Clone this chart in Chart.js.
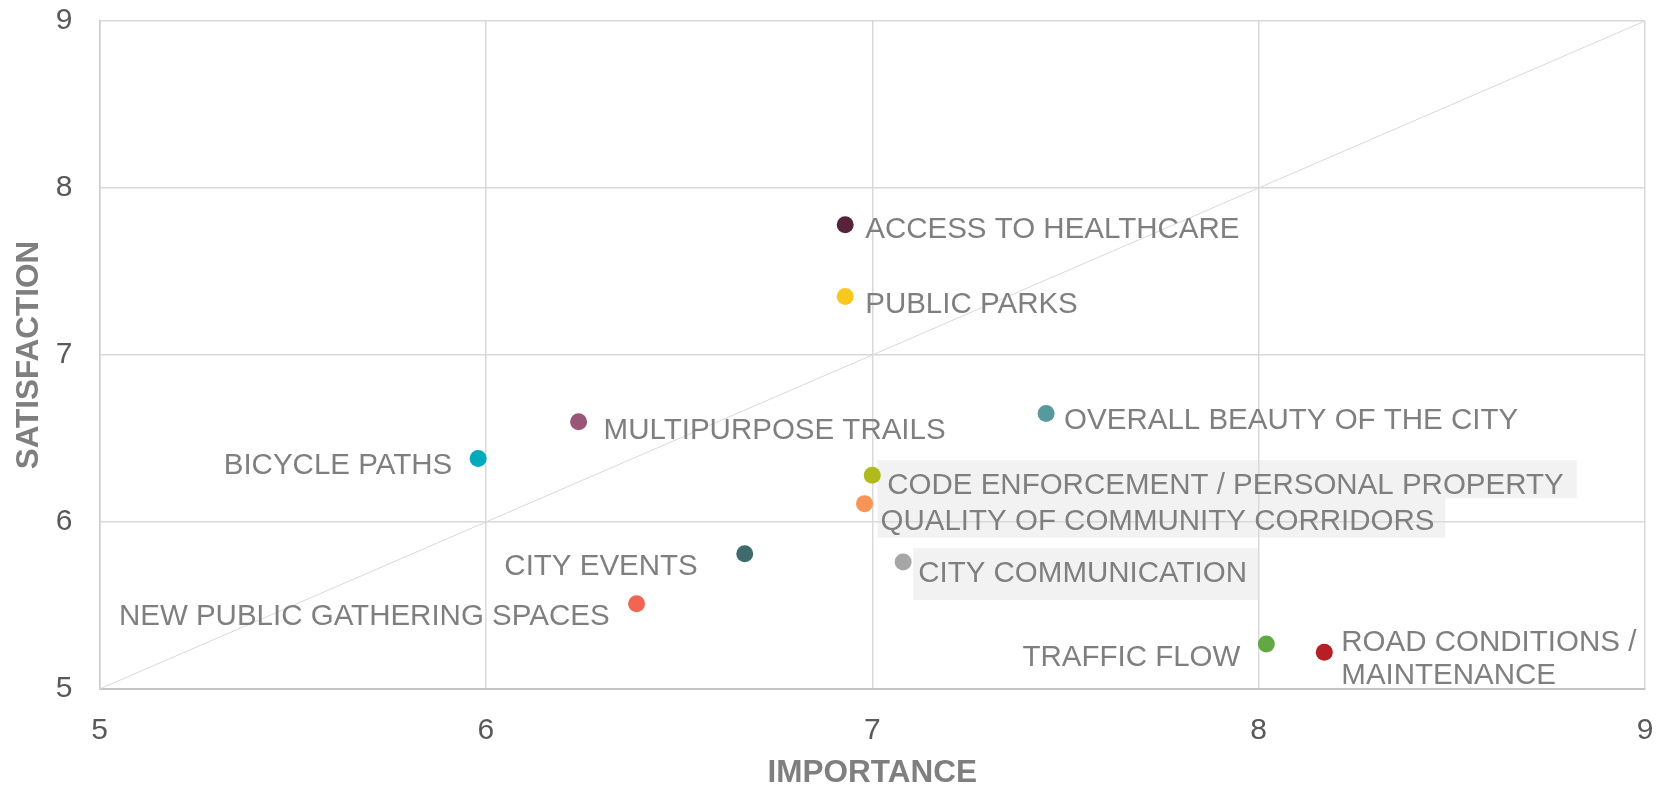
<!DOCTYPE html>
<html>
<head>
<meta charset="utf-8">
<script src="https://cdn.jsdelivr.net/npm/chart.js@4.4.0/dist/chart.umd.min.js"></script>
<style>
  html, body { margin: 0; padding: 0; background: #fff; }
</style>
</head>
<body>
<canvas id="chart" width="1656" height="786"></canvas>
<script>
// ===========================
// Data
// ===========================
const categories = [
  'ACCESS TO HEALTHCARE',
  'PUBLIC PARKS',
  'OVERALL BEAUTY OF THE CITY',
  'MULTIPURPOSE TRAILS',
  'BICYCLE PATHS',
  'CODE ENFORCEMENT / PERSONAL PROPERTY',
  'QUALITY OF COMMUNITY CORRIDORS',
  'CITY EVENTS',
  'CITY COMMUNICATION',
  'NEW PUBLIC GATHERING SPACES',
  'TRAFFIC FLOW',
  ['ROAD CONDITIONS /', 'MAINTENANCE']
];
const importance   = [6.93, 6.93, 7.45, 6.24, 5.98, 7.00, 6.98, 6.67, 7.08, 6.39, 8.02, 8.17];
const satisfaction = [7.78, 7.35, 6.65, 6.60, 6.38, 6.28, 6.11, 5.81, 5.76, 5.51, 5.27, 5.22];
const axisTicks = [5, 6, 7, 8, 9];

// ===========================
// Styling
// ===========================
const pointColors = [
  '#57233a', '#f9c81f', '#58999f', '#995677', '#00aabd', '#b0ba1c',
  '#f89457', '#3f6b6e', '#a6a6a6', '#f16653', '#62a845', '#b81e25'
];

// label placement relative to its point: side, x gap, y shift,
// optional grey box as [left pad, right pad, above, below]
const labelLayout = [
  { side: 'right', dx: 20, dy: 5 },
  { side: 'right', dx: 20, dy: 8 },
  { side: 'right', dx: 18, dy: 7 },
  { side: 'right', dx: 25, dy: 9 },
  { side: 'left',  dx: 26, dy: 7 },
  { side: 'right', dx: 15, dy: 11, box: [10, 13, 26, 12] },
  { side: 'right', dx: 16, dy: 18, box: [3, 11, 24, 16] },
  { side: 'left',  dx: 47, dy: 13 },
  { side: 'right', dx: 15, dy: 12, box: [5, 11, 26, 26] },
  { side: 'left',  dx: 27, dy: 13 },
  { side: 'left',  dx: 26, dy: 14 },
  { side: 'right', dx: 17, dy: 7 }
];

const FONT = "'Liberation Sans', Arial, sans-serif";
const LABEL_SIZE = 29.5;
const LINE_H = 33;

function labelBoxes(chart) {
  const { ctx, scales } = chart;
  ctx.save();
  ctx.font = LABEL_SIZE + 'px ' + FONT;
  const items = categories.map((cat, i) => {
    const lines = Array.isArray(cat) ? cat : [cat];
    const lay = labelLayout[i];
    const px = scales.x.getPixelForValue(importance[i]);
    const py = scales.y.getPixelForValue(satisfaction[i]);
    const w = Math.max(...lines.map(l => ctx.measureText(l).width));
    const x0 = lay.side === 'right' ? px + lay.dx : px - lay.dx - w;
    const cy = py + lay.dy;
    return { lines, lay, x0, w, cy };
  });
  ctx.restore();
  return items;
}

const pointLabels = {
  id: 'pointLabels',
  // boxes go under the grid so the grid lines still show through them
  beforeDraw(chart) {
    const { ctx } = chart;
    ctx.save();
    ctx.fillStyle = '#f2f2f2';
    labelBoxes(chart).forEach(it => {
      const b = it.lay.box;
      if (!b) return;
      ctx.fillRect(it.x0 - b[0], it.cy - b[2], it.w + b[0] + b[1], b[2] + b[3]);
    });
    ctx.restore();
  },
  afterDatasetsDraw(chart) {
    const { ctx } = chart;
    ctx.save();
    ctx.font = LABEL_SIZE + 'px ' + FONT;
    ctx.fillStyle = '#7f7f7f';
    ctx.textAlign = 'left';
    ctx.textBaseline = 'middle';
    labelBoxes(chart).forEach(it => {
      const top = it.cy - (it.lines.length - 1) * LINE_H / 2;
      it.lines.forEach((l, k) => {
        const lx = it.lay.side === 'left' ? it.x0 + it.w - ctx.measureText(l).width : it.x0;
        ctx.fillText(l, lx, top + k * LINE_H);
      });
    });
    ctx.restore();
  }
};

const points = importance.map((v, i) => ({ x: v, y: satisfaction[i] }));
const diagonal = [
  { x: axisTicks[0], y: axisTicks[0] },
  { x: axisTicks[axisTicks.length - 1], y: axisTicks[axisTicks.length - 1] }
];

new Chart(document.getElementById('chart'), {
  type: 'scatter',
  data: {
    datasets: [
      {
        label: 'Services',
        data: points,
        pointBackgroundColor: pointColors,
        pointBorderWidth: 0,
        pointRadius: 8.5,
        pointHoverRadius: 8.5,
        order: 1
      },
      {
        type: 'line',
        label: 'Parity',
        data: diagonal,
        borderColor: '#d9d9d9',
        borderWidth: 1,
        pointRadius: 0,
        fill: false,
        order: 2
      }
    ]
  },
  options: {
    responsive: false,
    animation: false,
    layout: { padding: { left: 0, right: 11, top: 21, bottom: 0 } },
    plugins: {
      legend: { display: false },
      tooltip: { enabled: false }
    },
    scales: {
      x: {
        type: 'linear',
        min: axisTicks[0],
        max: axisTicks[axisTicks.length - 1],
        afterBuildTicks: s => { s.ticks = axisTicks.map(v => ({ value: v })); },
        afterFit: s => {
          s.height = 97;
          s.paddingLeft = 8;
          s.paddingRight = 8;
        },
        grid: { color: '#d9d9d9', lineWidth: 1.5, drawTicks: false },
        border: { color: '#c4c4c4', width: 2 },
        ticks: {
          padding: 24,
          color: '#595959',
          font: { family: FONT, size: 30 }
        },
        title: {
          display: true,
          text: 'IMPORTANCE',
          color: '#7f7f7f',
          padding: 0,
          font: { family: FONT, size: 31.5, weight: 'bold', lineHeight: 0.8 }
        }
      },
      y: {
        type: 'linear',
        min: axisTicks[0],
        max: axisTicks[axisTicks.length - 1],
        afterBuildTicks: s => { s.ticks = axisTicks.map(v => ({ value: v })); },
        afterFit: s => {
          s.width = 99.5;
          s.paddingTop = 18;
          s.paddingBottom = 18;
        },
        grid: { color: '#d9d9d9', lineWidth: 1.5, drawTicks: false },
        border: { color: '#cccccc', width: 1.5 },
        ticks: {
          padding: 27,
          color: '#595959',
          font: { family: FONT, size: 30 }
        },
        title: {
          display: true,
          text: 'SATISFACTION',
          color: '#7f7f7f',
          padding: { top: 14, bottom: 0 },
          font: { family: FONT, size: 31.5, weight: 'bold', lineHeight: 1 }
        }
      }
    }
  },
  plugins: [pointLabels]
});
</script>
</body>
</html>
